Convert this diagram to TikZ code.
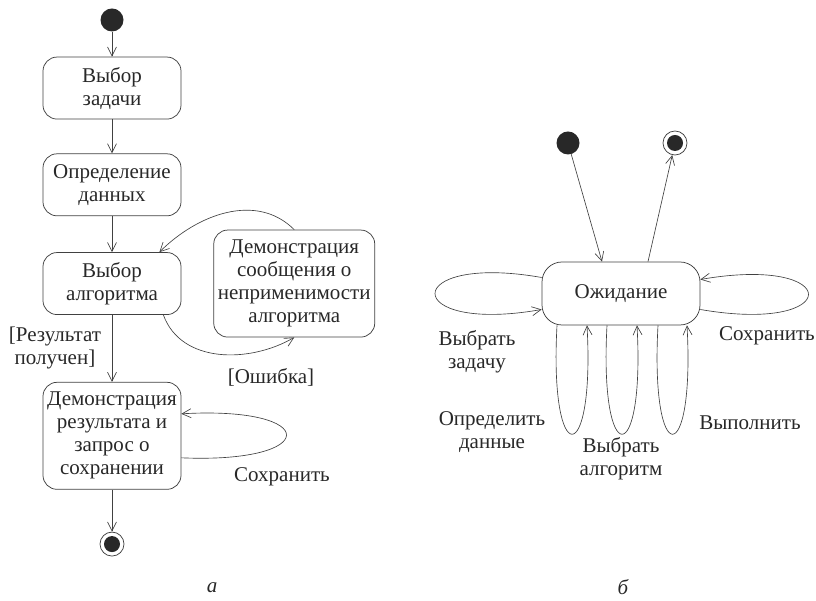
\documentclass[tikz,border=0pt]{standalone}
\usepackage{fontspec}
\setmainfont{Liberation Serif}
\newfontfamily\diagfont{Liberation Serif}
\usetikzlibrary{
    arrows.meta,
    positioning
}
\definecolor{ink}{RGB}{40,40,40}
\definecolor{wire}{RGB}{65,65,65}
\newcommand{\statefont}{\diagfont\fontsize{21}{23}\selectfont}
\tikzset{
    line cap=round,
    line join=round,
    state/.style={
        rectangle,
        rounded corners=14pt,
        draw=wire,
        line width=0.75pt,
        text=ink,
        align=center,
        minimum width=138pt,
        minimum height=62pt,
        inner sep=3pt,
        font=\statefont
    },
    initial/.style={
        circle,
        fill=ink,
        minimum size=23pt,
        inner sep=0pt
    },
    final/.style={
        circle,
        draw=wire,
        line width=0.75pt,
        minimum size=24pt,
        inner sep=0pt,
        path picture={\fill[ink] (path picture bounding box.center) circle (8pt);}
    },
    trans/.style={
        -{Straight Barb[length=9pt,width=9pt]},
        draw=wire,
        line width=0.65pt
    },
    guard/.style={
        font=\statefont,
        text=ink,
        align=center
    },
    sublabel/.style={
        font=\statefont\itshape,
        text=ink,
        inner sep=1pt
    }
}

\begin{document}
\begin{tikzpicture}[x=1pt, y=1pt]
\useasboundingbox (0,0) rectangle (816,601);

% --- a: activity ---
\node[initial] (start) at (112,581) {};
\node[state, below=25pt of start] (task) {Выбор\\задачи};
\node[state, below=34pt of task] (data) {Определение\\данных};
\node[state, below=36pt of data] (algo) {Выбор\\алгоритма};
\node[state, right=32pt of algo, minimum width=161pt, minimum height=107pt] (reject)
    {Демонстрация\\сообщения о\\неприменимости\\алгоритма};
\node[state, below=67pt of algo, minimum height=107pt] (result)
    {Демонстрация\\результата и\\запрос о\\сохранении};
\node[final, below=42pt of result] (stop) {};

\draw[trans] (start) -- (task);
\draw[trans] (task) -- (data);
\draw[trans] (data) -- (algo);
\draw[trans] (algo) -- (result);
\draw[trans] (result) -- (stop);

% error branch and back
\draw[trans] ([xshift=-18pt]algo.south east) to[out=-70, in=-150] (reject.south);
\draw[trans] (reject.north) to[out=135, in=45] ([xshift=-22pt]algo.north east);

% save loop
\draw[trans] ([yshift=-22pt]result.east) .. controls +(140,-6) and +(140,8) .. ([yshift=22pt]result.east);

\node[guard] (gotit) at (55,253) {[Результат\\получен]};
\node[guard] (fail) at (271,224) {[Ошибка]};
\node[guard] (saveA) at (282,124) {Сохранить};
\node[sublabel] (capA) at (212,13) {а};

% --- b: states ---
\node[initial] (start2) at (568,458) {};
\node[final] (stop2) at (675,458) {};
\node[state, rounded corners=20pt, minimum width=158pt, minimum height=63pt] (wait) at (621,307.5) {Ожидание};

\draw[trans] (start2) -- ([xshift=-19pt]wait.north);
\draw[trans] ([xshift=27pt]wait.north) -- (stop2);

% side loops
\draw[trans] ([yshift=16pt]wait.west) .. controls +(-142,25) and +(-142,-25) .. ([yshift=-16pt]wait.west);
\draw[trans] ([yshift=-16pt]wait.east) .. controls +(144,-25) and +(144,25) .. ([yshift=14pt]wait.east);

% bottom loops
\draw[trans] ([xshift=-64pt]wait.south) .. controls +(-8,-145) and +(8,-145) .. ([xshift=-34pt]wait.south);
\draw[trans] ([xshift=-14pt]wait.south) .. controls +(-8,-145) and +(8,-145) .. ([xshift=16pt]wait.south);
\draw[trans] ([xshift=37pt]wait.south) .. controls +(-8,-145) and +(8,-145) .. ([xshift=66pt]wait.south);

\node[guard] (pick) at (477,249) {Выбрать\\задачу};
\node[guard] (define) at (492,169) {Определить\\данные};
\node[guard] (choose) at (621,142) {Выбрать\\алгоритм};
\node[guard] (run) at (750,178) {Выполнить};
\node[guard] (saveB) at (767,265) {Сохранить};
\node[sublabel] (capB) at (623,14) {б};

\end{tikzpicture}
\end{document}
